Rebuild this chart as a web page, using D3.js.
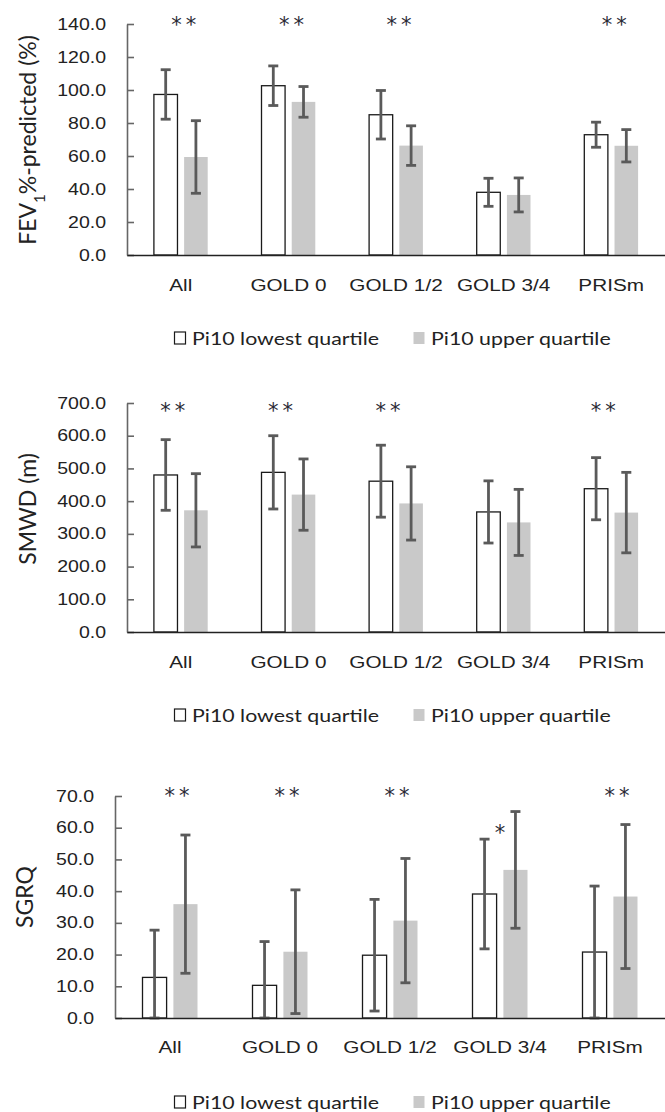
<!DOCTYPE html>
<html>
<head>
<meta charset="utf-8">
<script src="https://cdn.jsdelivr.net/npm/d3@7"></script>
<style>
  body { margin: 0; background: #fff; }
  svg { display: block; font-family: Lato, "Open Sans", sans-serif; }
</style>
</head>
<body>
<svg id="chart" width="665" height="1112"></svg>
<script>
// categories and series
var categories = ["All", "GOLD 0", "GOLD 1/2", "GOLD 3/4", "PRISm"];
var seriesNames = ["Pi10 lowest quartile", "Pi10 upper quartile"];

// FEV1 %-predicted
var fevLowest = [97.3, 102.6, 85.0, 38.0, 72.9];
var fevLowestErr = [15.0, 12.0, 14.7, 8.5, 7.6];
var fevUpper = [59.4, 92.8, 66.3, 36.4, 66.2];
var fevUpperErr = [22.0, 9.3, 12.0, 10.3, 9.8];
var fevTicks = [0, 20, 40, 60, 80, 100, 120, 140];
var fevStars = ["**", "**", "**", "", "**"];

// SMWD (m)
var smwdLowest = [480, 488, 461, 367, 438];
var smwdLowestErr = [108, 112, 110, 95, 95];
var smwdUpper = [372, 420, 393, 335, 365];
var smwdUpperErr = [112, 109, 112, 101, 123];
var smwdTicks = [0, 100, 200, 300, 400, 500, 600, 700];
var smwdStars = ["**", "**", "**", "", "**"];

// SGRQ
var sgrqLowest = [12.8, 10.3, 19.8, 39.1, 20.8];
var sgrqLowestErr = [14.9, 13.8, 17.6, 17.3, 20.8];
var sgrqUpper = [35.9, 20.9, 30.7, 46.7, 38.3];
var sgrqUpperErr = [21.8, 19.5, 19.6, 18.4, 22.7];
var sgrqTicks = [0, 10, 20, 30, 40, 50, 60, 70];
var sgrqStars = ["**", "**", "**", "", "**"];
var sgrqPairStars = ["", "", "", "*", ""];

var W = 665;
var SX = 1.22; // horizontal stretch of the original figure's text
var textColor = "#222";
var errColor = "#5a5a5a";
var greyFill = "#c9c9c9";

var svg = d3.select("#chart");

var panels = [
    { left: 127, top: 24, bottom: 255, yMax: 140, ticks: fevTicks,
      lowest: fevLowest, lowestErr: fevLowestErr, upper: fevUpper, upperErr: fevUpperErr,
      stars: fevStars, starY: 20, starDx: 3,
      label: "FEV", labelSub: "1", labelRest: "%-predicted (%)", labelX: 36, labelY: 140,
      catY: 285, legendY: 338 },
    { left: 127, top: 403, bottom: 632, yMax: 700, ticks: smwdTicks,
      lowest: smwdLowest, lowestErr: smwdLowestErr, upper: smwdUpper, upperErr: smwdUpperErr,
      stars: smwdStars, starY: 406, starDx: -8,
      label: "SMWD (m)", labelX: 36, labelY: 509,
      catY: 662, legendY: 715 },
    { left: 115, top: 796, bottom: 1018, yMax: 70, ticks: sgrqTicks,
      lowest: sgrqLowest, lowestErr: sgrqLowestErr, upper: sgrqUpper, upperErr: sgrqUpperErr,
      stars: sgrqStars, starY: 791, starDx: 7, pairStars: sgrqPairStars,
      label: "SGRQ", labelX: 33, labelY: 897,
      catY: 1047, legendY: 1102 }
];

panels.forEach(drawPanel);

function stretchedText(parent, x, y, str) {
    return parent.append("text")
        .attr("transform", "translate(" + x + "," + y + ") scale(" + SX + ",1)")
        .attr("fill", textColor)
        .text(str);
}

function starText(parent, x, cy, str) {
    var size = 21;
    return parent.append("text")
        .attr("x", x + (str.length > 1 ? 2 : 0))
        .attr("y", cy + size * 0.56)
        .attr("text-anchor", "middle")
        .attr("letter-spacing", str.length > 1 ? "4px" : null)
        .attr("fill", "#2a2a35")
        .style("font-family", "'DejaVu Sans', sans-serif")
        .style("font-size", size + "px")
        .text(str);
}

function drawPanel(p) {
    var w = W - p.left;
    var g = svg.append("g").attr("transform", "translate(" + p.left + ",0)");

    var x0 = d3.scaleBand().domain(categories).range([0, w]);
    var bw = x0.bandwidth();
    var x1 = d3.scaleBand().domain([0, 1])
        .range([0.25 * bw, 0.75 * bw])
        .paddingInner(0.22);
    var y = d3.scaleLinear().domain([0, p.yMax]).range([p.bottom, p.top]).clamp(true);

    var series = [
        { vals: p.lowest, errs: p.lowestErr },
        { vals: p.upper, errs: p.upperErr }
    ];

    series.forEach(function (s, si) {
        var data = categories.map(function (c, i) {
            return { cat: c, v: s.vals[i], e: s.errs[i] };
        });

        g.selectAll(".bar" + si)
            .data(data)
            .enter().append("rect")
            .attr("x", function (d) { return x0(d.cat) + x1(si); })
            .attr("y", function (d) { return y(d.v); })
            .attr("width", x1.bandwidth())
            .attr("height", function (d) { return y(0) - y(d.v); })
            .attr("fill", si == 0 ? "#fff" : greyFill)
            .attr("stroke", si == 0 ? "#1a1a1a" : "none")
            .attr("stroke-width", 1.3);
    });

    // error bars on top of both bars
    series.forEach(function (s, si) {
        var data = categories.map(function (c, i) {
            return { cat: c, v: s.vals[i], e: s.errs[i] };
        });
        var eg = g.selectAll(".err" + si)
            .data(data)
            .enter().append("g")
            .attr("transform", function (d) {
                return "translate(" + (x0(d.cat) + x1(si) + x1.bandwidth() / 2) + ",0)";
            });
        eg.append("line")
            .attr("y1", function (d) { return y(d.v - d.e); })
            .attr("y2", function (d) { return y(d.v + d.e); });
        eg.append("line")
            .attr("x1", -5).attr("x2", 5)
            .attr("y1", function (d) { return y(d.v + d.e); })
            .attr("y2", function (d) { return y(d.v + d.e); });
        eg.append("line")
            .attr("x1", -5).attr("x2", 5)
            .attr("y1", function (d) { return y(d.v - d.e); })
            .attr("y2", function (d) { return y(d.v - d.e); });
        eg.selectAll("line")
            .attr("stroke", errColor)
            .attr("stroke-width", 2.8);
    });

    // y axis
    var yAxis = g.append("g")
        .call(d3.axisLeft(y).tickValues(p.ticks).tickFormat(d3.format(".1f"))
            .tickSizeInner(-7).tickSizeOuter(0).tickPadding(21));
    yAxis.select(".domain").attr("stroke", "#666").attr("stroke-width", 1.6);
    yAxis.selectAll(".tick line").attr("stroke", "#666").attr("stroke-width", 1.6);
    yAxis.selectAll(".tick text")
        .attr("x", -21 / SX)
        .attr("transform", "scale(" + SX + ",1)")
        .attr("fill", textColor)
        .style("font-size", "16px");

    // x axis
    var xAxis = g.append("g")
        .attr("transform", "translate(0," + p.bottom + ")")
        .call(d3.axisBottom(x0).tickSize(0).tickSizeOuter(0).tickPadding(0));
    xAxis.select(".domain").attr("stroke", "#222").attr("stroke-width", 1.6);
    xAxis.selectAll(".tick text")
        .attr("y", p.catY - p.bottom)
        .attr("dy", "0.36em")
        .attr("transform", "scale(" + SX + ",1)")
        .attr("fill", textColor)
        .style("font-size", "17px");

    // significance stars
    categories.forEach(function (c, i) {
        if (!p.stars[i]) return;
        starText(g, x0(c) + bw / 2 + p.starDx, p.starY, p.stars[i]);
    });
    if (p.pairStars) {
        categories.forEach(function (c, i) {
            if (!p.pairStars[i]) return;
            var top = y(p.lowest[i] + p.lowestErr[i]) - 11;
            starText(g, x0(c) + bw / 2, top, p.pairStars[i]);
        });
    }

    // y label
    var lab = svg.append("text")
        .attr("transform", "translate(" + p.labelX + "," + p.labelY + ") rotate(-90)")
        .attr("text-anchor", "middle")
        .attr("fill", textColor)
        .style("font-size", "23px");
    lab.append("tspan").text(p.label);
    if (p.labelSub) {
        lab.append("tspan").attr("baseline-shift", "sub").style("font-size", "15px").text(p.labelSub);
        lab.append("tspan").text(p.labelRest);
    }

    // legend
    var lg = svg.append("g").attr("transform", "translate(0," + p.legendY + ")");
    var legendX = [174, 413];
    seriesNames.forEach(function (name, si) {
        lg.append("rect")
            .attr("x", legendX[si] + 0.5).attr("y", -6)
            .attr("width", 11).attr("height", 12)
            .attr("fill", si == 0 ? "#fff" : greyFill)
            .attr("stroke", si == 0 ? "#1a1a1a" : "none")
            .attr("stroke-width", 1.2);
        stretchedText(lg, legendX[si] + 18, 6.5, name)
            .style("font-size", "17.5px");
    });
}
</script>
</body>
</html>
